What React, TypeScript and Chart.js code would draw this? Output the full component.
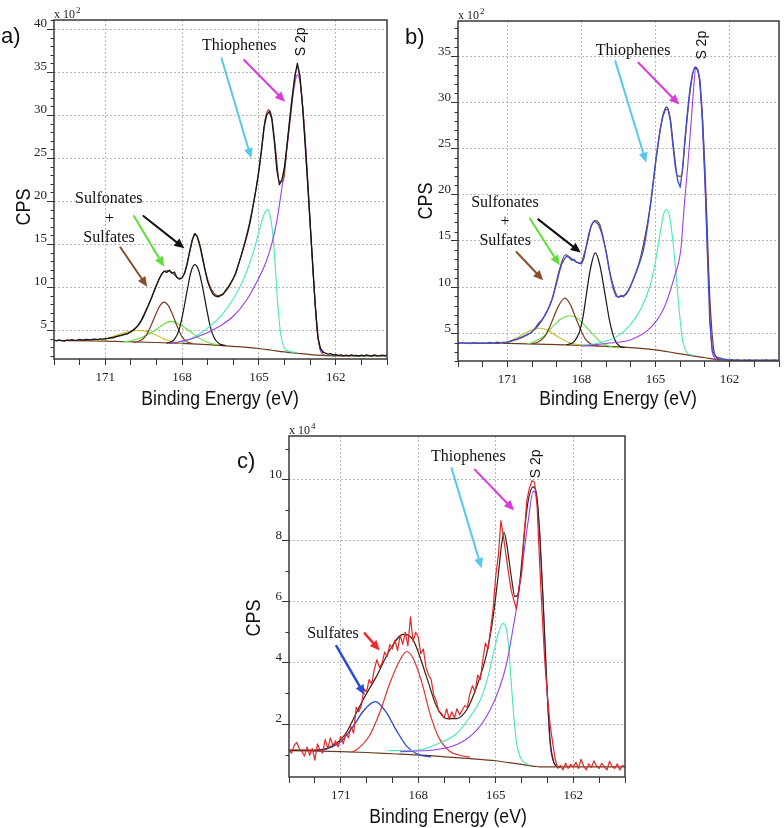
import React, { useEffect, useRef } from 'react';
import { Chart, registerables } from 'chart.js';

Chart.register(...registerables);

// ---------------- shared axis data ----------------
const X_TICKS = [173, 172, 171, 170, 169, 168, 167, 166, 165, 164, 163, 162, 161, 160];
const X_LABELS = [171, 168, 165, 162];
const Y_TICKS_A = [5, 10, 15, 20, 25, 30, 35, 40];
const Y_TICKS_B = [5, 10, 15, 20, 25, 30, 35];
const Y_TICKS_C = [2, 4, 6, 8, 10];

// binding energy grid of the measured spectra (eV)
const ENERGY = [
  173.0, 172.9, 172.8, 172.7, 172.6, 172.5, 172.4, 172.3, 172.2, 172.1,
  172.0, 171.9, 171.8, 171.7, 171.6, 171.5, 171.4, 171.3, 171.2, 171.1,
  171.0, 170.9, 170.8, 170.7, 170.6, 170.5, 170.4, 170.3, 170.2, 170.1,
  170.0, 169.9, 169.8, 169.7, 169.6, 169.5, 169.4, 169.3, 169.2, 169.1,
  169.0, 168.9, 168.8, 168.7, 168.6, 168.5, 168.4, 168.3, 168.2, 168.1,
  168.0, 167.9, 167.8, 167.7, 167.6, 167.5, 167.4, 167.3, 167.2, 167.1,
  167.0, 166.9, 166.8, 166.7, 166.6, 166.5, 166.4, 166.3, 166.2, 166.1,
  166.0, 165.9, 165.8, 165.7, 165.6, 165.5, 165.4, 165.3, 165.2, 165.1,
  165.0, 164.9, 164.8, 164.7, 164.6, 164.5, 164.4, 164.3, 164.2, 164.1,
  164.0, 163.9, 163.8, 163.7, 163.6, 163.5, 163.4, 163.3, 163.2, 163.1,
  163.0, 162.9, 162.8, 162.7, 162.6, 162.5, 162.4, 162.3, 162.2, 162.1,
  162.0, 161.9, 161.8, 161.7, 161.6, 161.5, 161.4, 161.3, 161.2, 161.1,
  161.0, 160.9, 160.8, 160.7, 160.6, 160.5, 160.4, 160.3, 160.2, 160.1,
  160.0,
];

// ---------------- panel a (x 10^2 CPS) ----------------
const EXP_A = [
  3.82, 3.75, 3.85, 3.78, 3.72, 3.84, 3.80, 3.88, 3.79, 3.83,
  3.90, 3.82, 3.87, 3.92, 3.85, 3.90, 3.95, 3.88, 3.97, 3.93,
  4.00, 4.02, 4.10, 4.08, 4.20, 4.28, 4.35, 4.45, 4.52, 4.62,
  4.80, 4.98, 5.25, 5.60, 6.10, 6.70, 7.35, 8.00, 8.70, 9.45,
  10.2, 10.9, 11.5, 11.85, 11.7, 11.95, 11.6, 11.75, 11.1, 10.9,
  11.05, 11.6, 12.7, 14.2, 15.5, 16.2, 15.8, 14.7, 13.3, 11.9,
  10.6, 9.8, 9.2, 8.95, 8.85, 9.0, 9.15, 9.6, 10.0, 10.5,
  11.0, 11.6, 12.6, 13.6, 14.6, 15.6, 16.8, 18.2, 19.9, 21.6,
  23.5, 26.0, 28.6, 30.0, 30.4, 29.6, 27.0, 23.6, 21.9, 22.5,
  24.0, 26.6, 29.4, 32.1, 34.5, 36.0, 34.6, 31.1, 26.8, 22.2,
  17.4, 12.6, 7.8, 4.2, 2.8, 2.45, 2.3, 2.2, 2.25, 2.1,
  2.15, 2.05, 2.12, 2.0, 2.08, 1.98, 2.1, 2.02, 2.06, 1.96,
  2.08, 2.0, 2.1, 2.02, 1.97, 2.1, 2.03, 2.0, 2.09, 2.02,
  2.05,
];
const ENV_A_X = [171, 170.5, 170, 169.6, 169.2, 168.9, 168.7, 168.5, 168.3, 168.1, 167.9, 167.7, 167.5, 167.3, 167.1, 166.9, 166.6, 166.3, 166.0, 165.6, 165.2, 164.9, 164.75, 164.62, 164.5, 164.35, 164.2, 164.05, 163.9, 163.7, 163.5, 163.3, 163.1, 162.9, 162.7, 162.5];
const ENV_A_Y = [3.95, 4.3, 4.8, 6.0, 8.7, 10.9, 11.8, 11.9, 11.4, 11.0, 11.7, 14.1, 16.2, 14.9, 12.0, 10.0, 9.0, 9.5, 11.0, 14.6, 19.9, 25.8, 29.6, 30.6, 29.8, 26.0, 22.3, 22.3, 26.5, 32.0, 35.5, 31.2, 22.3, 12.4, 4.3, 2.3];
const BG_A_X = [173, 171, 169, 168, 167, 166, 165, 164.5, 164, 163.5, 163, 162.5, 162, 160];
const BG_A_Y = [3.78, 3.7, 3.55, 3.45, 3.3, 3.1, 2.85, 2.65, 2.45, 2.3, 2.15, 2.05, 2.0, 2.0];
const YEL_A_X = [171.4, 171.0, 170.6, 170.2, 169.8, 169.5, 169.2, 168.9, 168.6, 168.3, 168.0];
const YEL_A_Y = [3.7, 3.95, 4.35, 4.75, 4.95, 4.9, 4.65, 4.25, 3.85, 3.6, 3.45];
const BRN_A_X = [169.9, 169.6, 169.4, 169.2, 169.0, 168.85, 168.7, 168.55, 168.4, 168.2, 168.0, 167.8, 167.6];
const BRN_A_Y = [3.55, 3.8, 4.4, 5.6, 7.0, 7.9, 8.25, 7.9, 7.0, 5.5, 4.2, 3.6, 3.45];
const GRN_A_X = [170.3, 170.0, 169.6, 169.2, 168.8, 168.45, 168.1, 167.7, 167.3, 166.9, 166.6];
const GRN_A_Y = [3.6, 3.75, 4.1, 4.7, 5.5, 6.0, 5.65, 4.85, 4.0, 3.45, 3.25];
const BLK_A_X = [168.6, 168.3, 168.1, 167.95, 167.8, 167.65, 167.5, 167.35, 167.2, 167.05, 166.9, 166.75, 166.55, 166.3];
const BLK_A_Y = [3.45, 3.9, 5.2, 7.2, 9.6, 11.8, 12.6, 11.9, 10.0, 7.6, 5.4, 4.1, 3.4, 3.2];
const CYA_A_X = [168.0, 167.3, 166.5, 166.0, 165.6, 165.2, 164.95, 164.78, 164.67, 164.57, 164.46, 164.37, 164.28, 164.17, 164.04, 163.85, 163.6];
const CYA_A_Y = [3.5, 4.6, 6.6, 8.6, 10.9, 14.2, 17.0, 18.6, 19.0, 18.4, 16.2, 12.8, 8.6, 5.0, 3.1, 2.55, 2.4];
const PUR_A_X = [168.5, 167.5, 166.5, 166.0, 165.5, 165.1, 164.75, 164.5, 164.3, 164.1, 163.9, 163.75, 163.62, 163.5, 163.38, 163.25, 163.12, 163.0, 162.86, 162.72, 162.6, 162.45];
const PUR_A_Y = [3.4, 4.1, 5.5, 6.6, 8.4, 10.5, 12.7, 15.0, 17.7, 21.6, 26.2, 30.2, 33.3, 34.7, 33.6, 29.6, 23.8, 17.4, 10.6, 4.9, 2.6, 2.1];

// ---------------- panel b (x 10^2 CPS) ----------------
const EXP_B = [
  3.95, 3.92, 4.00, 3.90, 3.96, 3.88, 3.95, 3.98, 3.90, 3.94,
  3.97, 3.90, 3.95, 4.02, 3.93, 3.98, 4.05, 3.96, 4.02, 4.00,
  4.06, 4.10, 4.20, 4.28, 4.38, 4.50, 4.60, 4.75, 4.85, 5.00,
  5.20, 5.45, 5.85, 6.20, 6.45, 6.85, 7.35, 7.90, 8.60, 9.50,
  10.5, 11.6, 12.5, 13.0, 13.35, 13.2, 12.9, 13.0, 12.7, 12.6,
  12.5, 13.1, 14.5, 15.8, 16.7, 17.1, 17.0, 16.7, 16.0, 15.0,
  13.8, 12.2, 10.8, 9.7, 9.0, 8.9, 9.1, 8.95, 9.3, 9.6,
  10.2, 10.8, 11.5, 12.2, 13.0, 13.9, 15.3, 17.0, 19.0, 21.3,
  23.5, 25.4, 27.2, 28.5, 29.2, 29.3, 28.0, 25.4, 23.0, 21.5,
  20.8, 23.0, 26.3, 29.2, 31.6, 33.2, 33.8, 33.5, 32.4, 28.3,
  22.0, 13.5, 6.0, 3.2, 2.6, 2.4, 2.35, 2.25, 2.2, 2.15,
  2.10, 2.15, 2.05, 2.12, 2.08, 2.00, 2.10, 2.05, 2.12, 2.02,
  2.06, 2.10, 2.00, 2.08, 2.04, 2.12, 2.00, 2.06, 2.10, 2.03,
  2.05,
];
const ENV_B_X = [171, 170.5, 170, 169.6, 169.2, 168.9, 168.65, 168.4, 168.2, 168.05, 167.8, 167.6, 167.45, 167.25, 167.0, 166.8, 166.5, 166.2, 166.0, 165.6, 165.2, 164.9, 164.7, 164.55, 164.4, 164.25, 164.1, 163.95, 163.8, 163.6, 163.4, 163.25, 163.1, 162.95, 162.8, 162.6, 162.4];
const ENV_B_Y = [4.05, 4.45, 5.15, 6.4, 8.6, 11.8, 13.5, 13.1, 12.7, 12.6, 14.4, 16.6, 17.2, 16.7, 13.8, 11.0, 8.95, 9.2, 10.2, 13.3, 19.0, 25.5, 28.6, 29.5, 28.2, 24.6, 22.0, 22.0, 26.0, 31.2, 33.8, 33.0, 28.3, 19.5, 8.8, 2.7, 2.2];
const BG_B_X = [173, 171, 169, 168, 167, 166, 165, 164.5, 164, 163.5, 163, 162.5, 162, 160];
const BG_B_Y = [3.95, 3.9, 3.78, 3.7, 3.58, 3.45, 3.2, 3.0, 2.78, 2.55, 2.35, 2.15, 2.1, 2.1];
const YEL_B_X = [171.3, 171.0, 170.6, 170.2, 169.9, 169.65, 169.35, 169.0, 168.6, 168.2, 167.9];
const YEL_B_Y = [3.9, 4.05, 4.55, 5.15, 5.45, 5.55, 5.3, 4.7, 4.1, 3.8, 3.7];
const BRN_B_X = [170.0, 169.75, 169.5, 169.3, 169.1, 168.9, 168.67, 168.45, 168.25, 168.05, 167.85, 167.6, 167.3];
const BRN_B_Y = [3.85, 4.05, 4.6, 5.6, 6.9, 8.1, 8.8, 8.1, 6.8, 5.5, 4.4, 3.8, 3.6];
const GRN_B_X = [170.2, 169.9, 169.5, 169.1, 168.8, 168.47, 168.15, 167.85, 167.5, 167.2, 166.8, 166.5];
const GRN_B_Y = [3.85, 4.1, 4.75, 5.9, 6.6, 6.9, 6.6, 5.8, 4.8, 4.0, 3.55, 3.45];
const BLK_B_X = [168.6, 168.3, 168.1, 167.95, 167.8, 167.65, 167.44, 167.25, 167.05, 166.85, 166.65, 166.45, 166.25];
const BLK_B_Y = [3.75, 4.1, 5.0, 6.6, 9.2, 11.8, 13.7, 12.3, 9.3, 6.2, 4.3, 3.6, 3.45];
const CYA_B_X = [168.0, 167.3, 166.5, 166.0, 165.6, 165.25, 165.05, 164.9, 164.78, 164.67, 164.58, 164.44, 164.31, 164.17, 164.04, 163.9, 163.75, 163.5];
const CYA_B_Y = [3.7, 3.95, 4.75, 6.0, 7.6, 9.9, 12.1, 14.4, 16.4, 17.9, 18.4, 17.8, 15.3, 11.4, 7.4, 4.2, 3.0, 2.6];
const PUR_B_X = [168.0, 167.0, 166.0, 165.2, 164.65, 164.25, 163.97, 163.84, 163.7, 163.57, 163.46, 163.37, 163.23, 163.1, 162.96, 162.83, 162.73, 162.63, 162.5];
const PUR_B_Y = [3.6, 3.9, 4.3, 5.6, 7.8, 11.0, 14.2, 18.7, 23.0, 27.4, 31.4, 33.7, 32.8, 27.4, 18.7, 9.3, 3.6, 2.45, 2.15];

// ---------------- panel c (x 10^4 CPS) ----------------
const EXP_C = [
  1.15, 1.05, 1.30, 1.40, 1.20, 1.10, 0.95, 1.25, 0.98, 1.20,
  0.82, 1.35, 1.15, 1.05, 1.50, 1.20, 1.55, 1.30, 1.45, 1.25,
  1.60, 1.35, 1.70, 1.55, 1.92, 1.70, 2.55, 2.40, 2.60, 3.15,
  3.05, 3.45, 3.30, 3.78, 4.10, 3.85, 3.98, 4.35, 4.20, 4.60,
  4.45, 4.75, 4.40, 4.90, 4.60, 5.00, 4.55, 5.50, 4.70, 5.00,
  4.85, 4.30, 4.45, 3.85, 3.60, 3.45, 2.95, 2.75, 2.40, 2.35,
  2.20, 2.50, 2.15, 2.40, 2.20, 2.50, 2.30, 2.45, 2.60, 2.55,
  3.00, 3.25, 3.05, 3.60, 3.45, 4.10, 4.65, 4.45, 5.10, 5.80,
  6.85, 7.50, 8.65, 8.10, 7.50, 6.90, 6.35, 6.05, 5.75, 6.50,
  6.90, 8.20, 9.30, 9.70, 9.95, 9.90, 9.10, 7.20, 5.50, 4.00,
  2.90, 2.00, 1.40, 0.85, 0.55, 0.65, 0.50, 0.72, 0.55, 0.68,
  0.60, 0.75, 0.55, 0.85, 0.62, 0.50, 0.70, 0.58, 0.80, 0.62,
  0.55, 0.72, 0.60, 0.50, 0.78, 0.62, 0.55, 0.70, 0.50, 0.65,
  0.60,
];
const ENV_C_X = [173, 172, 171.3, 170.8, 170.4, 170.13, 169.62, 169.1, 168.58, 168.2, 167.68, 167.29, 166.9, 166.52, 166.13, 165.74, 165.35, 165.1, 164.9, 164.77, 164.68, 164.58, 164.38, 164.26, 164.13, 164.0, 163.87, 163.74, 163.55, 163.42, 163.29, 163.16, 163.03, 162.9, 162.77, 162.64, 162.5];
const ENV_C_Y = [1.15, 1.15, 1.3, 1.7, 2.35, 2.8, 3.55, 4.42, 4.93, 4.75, 3.55, 2.57, 2.18, 2.18, 2.46, 3.22, 4.31, 5.5, 6.9, 7.9, 8.26, 7.9, 6.7, 6.16, 6.27, 7.25, 8.45, 9.32, 9.75, 9.5, 8.1, 5.9, 3.4, 1.5, 0.8, 0.62, 0.6];
const BG_C_X = [173, 171, 170, 169, 168, 167, 166, 165, 164.5, 164, 163.5, 163.3, 163, 160];
const BG_C_Y = [1.13, 1.1, 1.07, 1.03, 0.99, 0.93, 0.87, 0.8, 0.74, 0.68, 0.62, 0.6, 0.6, 0.6];
const BLU_C_X = [172.0, 171.5, 171.0, 170.5, 170.1, 169.66, 169.25, 168.85, 168.45, 168.0, 167.5];
const BLU_C_Y = [1.13, 1.2, 1.42, 1.95, 2.45, 2.73, 2.4, 1.8, 1.28, 1.0, 0.93];
const RED_C_X = [170.6, 170.4, 169.9, 169.5, 169.1, 168.7, 168.45, 168.2, 167.85, 167.55, 167.2, 166.8, 166.4, 166.0];
const RED_C_Y = [1.08, 1.15, 1.6, 2.35, 3.33, 4.1, 4.37, 4.15, 3.33, 2.35, 1.55, 1.12, 0.98, 0.92];
const CYA_C_X = [169.2, 168.0, 167.2, 166.5, 166.0, 165.6, 165.3, 165.03, 164.86, 164.71, 164.58, 164.48, 164.38, 164.29, 164.19, 164.06, 163.93, 163.7];
const CYA_C_Y = [1.13, 1.15, 1.37, 1.7, 2.24, 2.78, 3.55, 4.53, 5.07, 5.29, 5.07, 4.31, 3.11, 2.13, 1.37, 0.93, 0.77, 0.65];
const PUR_C_X = [168.7, 167.4, 166.4, 165.74, 165.22, 164.84, 164.58, 164.32, 164.13, 163.93, 163.74, 163.55, 163.42, 163.29, 163.16, 163.03, 162.9, 162.77, 162.64];
const PUR_C_Y = [1.1, 1.15, 1.37, 1.8, 2.46, 3.22, 3.98, 5.18, 6.16, 7.47, 8.67, 9.6, 9.43, 8.0, 5.84, 3.33, 1.37, 0.77, 0.6];

// ---------------- styling ----------------
const SERIF = "'Liberation Serif', 'Times New Roman', serif";
const SANS = "'Liberation Sans', Arial, sans-serif";
const GRID = 'rgba(175,175,175,0.9)';
const C_CYAN_ARROW = '#56c9ec';
const C_MAG_ARROW = '#d93cdc';
const C_GREEN = '#5fe03c';
const C_BROWN = '#7e3b1d';
const C_BG = '#6e3a1e';
const C_YEL = '#c8c232';
const C_CYAN = '#48e6bd';
const C_PURPLE = '#9a3ee6';
const X_AXIS_H = 30;

const pts = (xs: number[], ys: number[]) => xs.map((x, i) => ({ x, y: ys[i] }));

type Txt = { text: string; x: number; y: number; size: number; family: string; color?: string; rotate?: boolean };
type Arrow = { x1: number; y1: number; x2: number; y2: number; color: string; width?: number };

type PanelSpec = {
  key: string;
  left: number; top: number; width: number; height: number;
  area: { left: number; top: number; right: number; bottom: number };
  yMin: number; yMax: number; yTicks: number[];
  exponent: string;
  label: string; labelPos: [number, number];
  cpsPos: [number, number];
  xTitlePos: [number, number];
  datasets: any[];
  texts: Txt[];
  arrows: Arrow[];
};

function line(data: any[], color: string, width: number, smooth: boolean) {
  return {
    data,
    borderColor: color,
    backgroundColor: color,
    borderWidth: width,
    pointRadius: 0,
    fill: false,
    tension: 0,
    cubicInterpolationMode: smooth ? 'monotone' : 'default',
  };
}

function drawText(ctx: CanvasRenderingContext2D, text: string, x: number, y: number, font: string, color: string,
  align: CanvasTextAlign, baseline: CanvasTextBaseline, rot = 0, sx = 1) {
  ctx.save();
  ctx.translate(x, y);
  if (rot) ctx.rotate(rot);
  ctx.scale(sx, 1);
  ctx.font = font;
  ctx.fillStyle = color;
  ctx.textAlign = align;
  ctx.textBaseline = baseline;
  ctx.fillText(text, 0, 0);
  ctx.restore();
}

function drawArrow(ctx: CanvasRenderingContext2D, x1: number, y1: number, x2: number, y2: number, color: string, width: number) {
  const ang = Math.atan2(y2 - y1, x2 - x1);
  const head = 10;
  const half = 4.5;
  const bx = x2 - head * Math.cos(ang);
  const by = y2 - head * Math.sin(ang);
  ctx.save();
  ctx.strokeStyle = color;
  ctx.fillStyle = color;
  ctx.lineWidth = width;
  ctx.lineCap = 'round';
  ctx.beginPath();
  ctx.moveTo(x1, y1);
  ctx.lineTo(bx, by);
  ctx.stroke();
  ctx.beginPath();
  ctx.moveTo(x2, y2);
  ctx.lineTo(bx + half * Math.sin(ang), by - half * Math.cos(ang));
  ctx.lineTo(bx - half * Math.sin(ang), by + half * Math.cos(ang));
  ctx.closePath();
  ctx.fill();
  ctx.restore();
}

function makeDecor(spec: PanelSpec) {
  return {
    id: 'decor_' + spec.key,
    afterDraw(chart: any) {
      const ctx: CanvasRenderingContext2D = chart.ctx;
      const a = chart.chartArea;
      const xs = chart.scales.x;
      const ys = chart.scales.y;
      // minor y ticks
      ctx.save();
      ctx.strokeStyle = '#333';
      ctx.lineWidth = 1;
      for (let v = Math.ceil(spec.yMin); v <= Math.floor(spec.yMax); v++) {
        if (spec.yTicks.includes(v)) continue;
        const py = Math.round(ys.getPixelForValue(v)) + 0.5;
        ctx.beginPath();
        ctx.moveTo(a.left - 3.5, py);
        ctx.lineTo(a.left, py);
        ctx.stroke();
      }
      ctx.restore();
      // frame
      ctx.save();
      ctx.strokeStyle = '#3a3a3a';
      ctx.lineWidth = 1.5;
      ctx.strokeRect(a.left, a.top, a.right - a.left, a.bottom - a.top);
      ctx.restore();
      // multiplier "x 10^n"
      ctx.save();
      ctx.font = `12px ${SERIF}`;
      const w = ctx.measureText('x 10').width;
      ctx.restore();
      drawText(ctx, 'x 10', a.left, a.top - 2, `12px ${SERIF}`, '#222', 'left', 'alphabetic');
      drawText(ctx, spec.exponent, a.left + w + 1, a.top - 7, `9px ${SERIF}`, '#222', 'left', 'alphabetic');
      // panel label
      drawText(ctx, spec.label, spec.labelPos[0], spec.labelPos[1], `22px ${SANS}`, '#111', 'left', 'middle');
      // axis titles
      drawText(ctx, 'CPS', spec.cpsPos[0], spec.cpsPos[1], `20px ${SANS}`, '#111', 'center', 'middle', -Math.PI / 2, 0.9);
      drawText(ctx, 'Binding Energy (eV)', spec.xTitlePos[0], spec.xTitlePos[1], `20px ${SANS}`, '#111', 'center', 'middle', 0, 0.88);
      // annotations
      for (const t of spec.texts) {
        const px = xs.getPixelForValue(t.x);
        const py = ys.getPixelForValue(t.y);
        drawText(ctx, t.text, px, py, `${t.size}px ${t.family}`, t.color || '#111', 'center', 'middle', t.rotate ? -Math.PI / 2 : 0);
      }
      for (const ar of spec.arrows) {
        drawArrow(ctx, xs.getPixelForValue(ar.x1), ys.getPixelForValue(ar.y1), xs.getPixelForValue(ar.x2), ys.getPixelForValue(ar.y2), ar.color, ar.width || 2);
      }
    },
  };
}

function buildConfig(spec: PanelSpec) {
  const ar = spec.area;
  return {
    type: 'line',
    data: { datasets: spec.datasets },
    options: {
      animation: false,
      responsive: false,
      maintainAspectRatio: false,
      events: [],
      layout: {
        padding: { left: 0, top: ar.top, right: spec.width - ar.right, bottom: spec.height - ar.bottom - X_AXIS_H },
      },
      plugins: { legend: { display: false }, tooltip: { enabled: false }, title: { display: false } },
      elements: { point: { radius: 0 }, line: { borderJoinStyle: 'round' } },
      scales: {
        x: {
          type: 'linear',
          min: 160,
          max: 173,
          reverse: true,
          afterBuildTicks: (s: any) => { s.ticks = X_TICKS.map((v) => ({ value: v })); },
          afterFit: (s: any) => { s.height = X_AXIS_H; },
          ticks: {
            autoSkip: false,
            maxRotation: 0,
            minRotation: 0,
            padding: 5,
            color: '#222',
            font: { family: SERIF, size: 13 },
            callback: (v: number) => (X_LABELS.includes(v) ? String(v) : ''),
          },
          grid: {
            color: (c: any) => (c.tick && X_LABELS.includes(c.tick.value) ? GRID : 'rgba(0,0,0,0)'),
            tickColor: '#333',
            tickLength: 6,
            lineWidth: 1,
          },
          border: { display: false, dash: [2, 2] },
        },
        y: {
          type: 'linear',
          min: spec.yMin,
          max: spec.yMax,
          afterBuildTicks: (s: any) => { s.ticks = spec.yTicks.map((v) => ({ value: v })); },
          afterFit: (s: any) => { s.width = ar.left; },
          ticks: {
            autoSkip: false,
            padding: 0,
            labelOffset: -5,
            color: '#222',
            font: { family: SERIF, size: 13 },
            callback: (v: number) => String(v),
          },
          grid: { color: GRID, tickColor: '#333', tickLength: 7, lineWidth: 1 },
          border: { display: false, dash: [2, 2] },
        },
      },
    },
    plugins: [makeDecor(spec)],
  };
}

const serifTxt = (text: string, x: number, y: number, size = 16): Txt => ({ text, x, y, size, family: SERIF });
const s2p = (x: number, y: number): Txt => ({ text: 'S 2p', x, y, size: 14, family: SANS, rotate: true });

const PANELS: PanelSpec[] = [
  {
    key: 'a', left: 0, top: 0, width: 392, height: 410,
    area: { left: 54, top: 20, right: 387, bottom: 359 },
    yMin: 1.63, yMax: 41.05, yTicks: Y_TICKS_A, exponent: '2',
    label: 'a)', labelPos: [1, 37], cpsPos: [24, 207], xTitlePos: [220, 399],
    datasets: [
      line(pts(ENERGY, EXP_A), '#141414', 1.3, false),
      line(pts(ENV_A_X, ENV_A_Y), '#8a4526', 1.2, true),
      line(pts(PUR_A_X, PUR_A_Y), C_PURPLE, 1.1, true),
      line(pts(CYA_A_X, CYA_A_Y), C_CYAN, 1.1, true),
      line(pts(BLK_A_X, BLK_A_Y), '#151515', 1.2, true),
      line(pts(BRN_A_X, BRN_A_Y), C_BROWN, 1.2, true),
      line(pts(GRN_A_X, GRN_A_Y), C_GREEN, 1.1, true),
      line(pts(YEL_A_X, YEL_A_Y), C_YEL, 1.1, true),
      line(pts(BG_A_X, BG_A_Y), C_BG, 1.2, true),
    ],
    texts: [
      serifTxt('Thiophenes', 165.77, 38.0),
      s2p(163.34, 38.5),
      serifTxt('Sulfonates', 170.86, 20.23),
      serifTxt('+', 170.83, 17.99),
      serifTxt('Sulfates', 170.85, 15.75),
    ],
    arrows: [
      { x1: 166.46, y1: 36.6, x2: 165.3, y2: 24.97, color: C_CYAN_ARROW },
      { x1: 165.58, y1: 36.4, x2: 163.98, y2: 31.55, color: C_MAG_ARROW },
      { x1: 169.51, y1: 18.26, x2: 167.91, y2: 14.5, color: '#111' },
      { x1: 169.88, y1: 18.26, x2: 168.7, y2: 12.36, color: C_GREEN },
      { x1: 170.41, y1: 14.62, x2: 169.36, y2: 10.03, color: '#8a4f2a' },
    ],
  },
  {
    key: 'b', left: 392, top: 0, width: 392, height: 410,
    area: { left: 66, top: 21, right: 389, bottom: 361 },
    yMin: 2.0, yMax: 38.8, yTicks: Y_TICKS_B, exponent: '2',
    label: 'b)', labelPos: [13, 38], cpsPos: [34, 201], xTitlePos: [226, 399],
    datasets: [
      line(pts(ENERGY, EXP_B), '#3d4fd9', 1.3, false),
      line(pts(ENV_B_X, ENV_B_Y), '#7a3a1e', 1.2, true),
      line(pts(PUR_B_X, PUR_B_Y), C_PURPLE, 1.1, true),
      line(pts(CYA_B_X, CYA_B_Y), C_CYAN, 1.1, true),
      line(pts(BLK_B_X, BLK_B_Y), '#151515', 1.2, true),
      line(pts(BRN_B_X, BRN_B_Y), C_BROWN, 1.2, true),
      line(pts(GRN_B_X, GRN_B_Y), C_GREEN, 1.1, true),
      line(pts(YEL_B_X, YEL_B_Y), C_YEL, 1.1, true),
      line(pts(BG_B_X, BG_B_Y), C_BG, 1.2, true),
    ],
    texts: [
      serifTxt('Thiophenes', 165.91, 35.62),
      s2p(163.13, 36.18),
      serifTxt('Sulfonates', 171.1, 19.15),
      serifTxt('+', 171.1, 17.07),
      serifTxt('Sulfates', 171.09, 14.97),
    ],
    arrows: [
      { x1: 166.63, y1: 34.46, x2: 165.38, y2: 23.48, color: C_CYAN_ARROW },
      { x1: 165.69, y1: 34.28, x2: 164.04, y2: 29.75, color: C_MAG_ARROW },
      { x1: 169.75, y1: 17.33, x2: 168.03, y2: 13.74, color: '#111' },
      { x1: 170.09, y1: 17.43, x2: 168.88, y2: 12.36, color: C_GREEN },
      { x1: 170.63, y1: 13.8, x2: 169.55, y2: 10.73, color: '#8a4f2a' },
    ],
  },
  {
    key: 'c', left: 200, top: 412, width: 584, height: 416,
    area: { left: 89, top: 24, right: 425, bottom: 365 },
    yMin: 0.27, yMax: 11.41, yTicks: Y_TICKS_C, exponent: '4',
    label: 'c)', labelPos: [37, 50], cpsPos: [54, 206], xTitlePos: [248, 405],
    datasets: [
      line(pts(ENERGY, EXP_C), '#e0282a', 1.2, false),
      line(pts(ENV_C_X, ENV_C_Y), '#3b1e12', 1.2, true),
      line(pts(PUR_C_X, PUR_C_Y), C_PURPLE, 1.1, true),
      line(pts(CYA_C_X, CYA_C_Y), C_CYAN, 1.1, true),
      line(pts(RED_C_X, RED_C_Y), '#dd3232', 1.2, true),
      line(pts(BLU_C_X, BLU_C_Y), '#2a45c9', 1.3, true),
      line(pts(BG_C_X, BG_C_Y), C_BG, 1.2, true),
    ],
    texts: [
      serifTxt('Thiophenes', 166.06, 10.74),
      s2p(163.42, 10.5),
      serifTxt('Sulfates', 171.3, 4.94),
    ],
    arrows: [
      { x1: 166.71, y1: 10.36, x2: 165.55, y2: 7.09, color: C_CYAN_ARROW },
      { x1: 165.81, y1: 10.31, x2: 164.29, y2: 8.98, color: C_MAG_ARROW },
      { x1: 170.07, y1: 4.96, x2: 169.49, y2: 4.4, color: '#ee2b2b', width: 2.5 },
      { x1: 171.17, y1: 4.55, x2: 170.07, y2: 2.95, color: '#2a4fd6', width: 2.5 },
    ],
  },
];

function Panel({ spec }: { spec: PanelSpec }) {
  const ref = useRef<HTMLCanvasElement | null>(null);
  useEffect(() => {
    if (!ref.current) return;
    const chart = new Chart(ref.current, buildConfig(spec) as any);
    return () => chart.destroy();
  }, [spec]);
  return (
    <canvas
      ref={ref}
      width={spec.width}
      height={spec.height}
      style={{ position: 'absolute', left: spec.left, top: spec.top, width: spec.width, height: spec.height }}
    />
  );
}

export default function App() {
  return (
    <div style={{ position: 'absolute', left: 0, top: 0, width: 784, height: 828, background: '#fff', overflow: 'hidden' }}>
      {PANELS.map((p) => (
        <Panel key={p.key} spec={p} />
      ))}
    </div>
  );
}
